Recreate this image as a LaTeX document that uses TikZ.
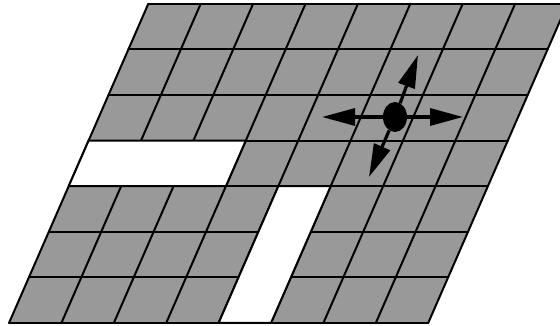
\documentclass[tikz,border=0pt]{standalone}
\usetikzlibrary{positioning,arrows.meta,shapes.geometric}

\begin{document}
\begin{tikzpicture}[x=1pt,y=1pt,
  cellfill/.style={fill=black!40},
  gridline/.style={line width=2pt,line cap=round},
  hole/.style={fill=white,draw=black,line width=2pt,line join=round},
  robot/.style={ellipse,fill=black,inner sep=0pt,minimum width=24pt,minimum height=30pt},
  move/.style={line width=3.2pt,-{Triangle[length=33pt 0 0,width=17pt 0 0]}},
]
\useasboundingbox (0,0) rectangle (560,326);
\clip (0,0) rectangle (560,326);

% Grid of cells (slanted)
\begin{scope}[shift={(9,3)},x={(52.4pt,0pt)},y={(19.9pt,45.6pt)}]
  \fill[cellfill] (0,0) -- (8,0) -- (8,7) -- (0,7) -- cycle;
  \foreach \r in {0,...,7}
    \draw[gridline] (0,\r) -- (8,\r);
  \foreach \c in {0,...,8}
    \draw[gridline] (\c,0) -- (\c,7);
  % Obstacles
  \draw[hole] (0,3) -- (3,3) -- (3,4) -- (0,4) -- cycle;
  \draw[hole] (4,0) -- (5,0) -- (5,3) -- (4,3) -- cycle;
\end{scope}

% Robot and its moves
\node[robot] (bot) at (395,209) {};
\coordinate (goW) at (322,209);
\coordinate (goE) at (463,209);
\coordinate (goN) at (418,271);
\coordinate (goS) at (369,149);
\draw[move] (bot) -- (goW);
\draw[move] (bot) -- (goE);
\draw[move] (bot) -- (goN);
\draw[move] (bot) -- (goS);
\end{tikzpicture}
\end{document}
